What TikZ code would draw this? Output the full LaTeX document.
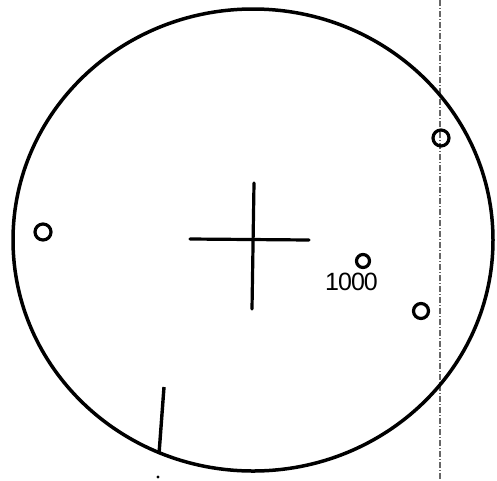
\documentclass[tikz,border=0pt]{standalone}
\usepackage{fontspec}
\setmainfont{Liberation Sans}
\usetikzlibrary{shapes.geometric}
\begin{document}
\begin{tikzpicture}[x=1pt,y=-1pt,
  outline/.style={ellipse,draw=black,line width=3.5pt,inner sep=0pt},
  stroke/.style={line width=3.2pt,black,line cap=round},
  hole/.style={circle,draw=black,line width=3.2pt,inner sep=0pt},
  scanline/.style={line width=1.2pt,black!60,dash pattern=on 6pt off 2pt on 1pt off 2pt}]
\useasboundingbox[fill=white] (0,0) rectangle (497,480);
% scan fold line
\coordinate (f1) at (440,0);
\coordinate (f2) at (440,480);
\draw[scanline] (f1) -- (f2);
% main outline
\node[outline,minimum width=480pt,minimum height=462pt] (disc) at (253,240) {};
% cross
\coordinate (ct) at (254,183);
\coordinate (cb) at (252,309);
\coordinate (cl) at (190,239);
\coordinate (cr) at (309,240);
\draw[stroke] (ct) -- (cb);
\draw[stroke] (cl) -- (cr);
% holes
\node[hole,minimum size=16pt] (h1) at (43,232) {};
\node[hole,minimum size=16pt] (h2) at (441,138) {};
\node[hole,minimum size=15pt] (h3) at (421,311) {};
\node[hole,minimum size=13pt] (h4) at (363,261) {};
% label
\node[font=\fontsize{25}{25}\selectfont\addfontfeature{LetterSpace=-4},inner sep=0pt,anchor=base west] (lbl) at (325,290) {1000};
% tick at bottom
\coordinate (t1) at (164,387);
\coordinate (t2) at (159,454);
\draw[stroke,line width=3.4pt,line cap=butt] (t1) -- (t2);
\fill (158,477) circle (1.6pt);
\end{tikzpicture}
\end{document}
